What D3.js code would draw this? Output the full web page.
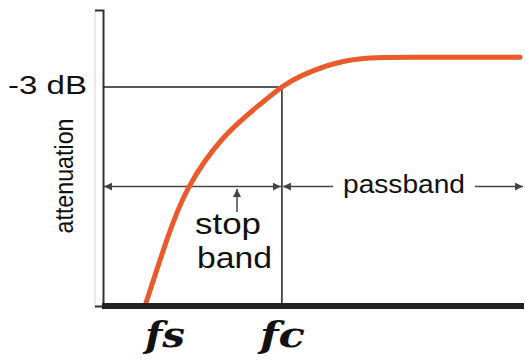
<!DOCTYPE html>
<html lang="en">
<head>
  <meta charset="UTF-8">
  <title>low-pass cutoff</title>
  <script src="https://cdn.jsdelivr.net/npm/d3@7"></script>
  <style>
    body { margin: 0; background: #fff; }
    .sans { font-family: "Liberation Sans", Arial, sans-serif; fill: #111; }
    .freq { font-family: "DejaVu Serif", serif; font-weight: 700; font-style: italic; fill: #111; }
  </style>
</head>
<body>
<script>
// frequency (arbitrary units) and attenuation in dB
let freq  = [1.0, 1.52, 2.05, 2.86, 3.67, 4.26, 4.76, 5.57, 6.36, 7.31, 9.93];
let atten = [-25.2, -18.5, -13.1, -8.2, -5.0, -3.0, -1.8, -0.57, -0.07, 0, 0];
let fs = 1.0;
let fc = 4.26;
let cutoff = -3;
let arrowLevel = -13.1;

let width = 525;
let height = 360;

let x = d3.scaleLinear().domain([0, 10]).range([103, 523]);
let y = d3.scaleLinear().domain([-25.2, 4.8]).range([306, 10]);

let svg = d3.select('body')
  .append('svg')
  .attr('width', width)
  .attr('height', height);

let defs = svg.append('defs');
defs.append('marker')
  .attr('id', 'head')
  .attr('viewBox', '0 0 10 10')
  .attr('refX', 10)
  .attr('refY', 5)
  .attr('markerWidth', 10)
  .attr('markerHeight', 8)
  .attr('markerUnits', 'userSpaceOnUse')
  .attr('orient', 'auto-start-reverse')
  .append('path')
  .attr('d', 'M0,0 L10,5 L0,10 Z')
  .attr('fill', '#444');

// faint frame line left of the axis
svg.append('line')
  .attr('x1', 95).attr('x2', 95)
  .attr('y1', y(4.8)).attr('y2', y(-25.2) + 2)
  .attr('stroke', '#d4d4d4')
  .attr('stroke-width', 1);

// y axis: only the domain with its outer tick
let yAxis = d3.axisLeft(y).tickValues([]).tickSizeOuter(8);
let gy = svg.append('g')
  .attr('transform', 'translate(' + x(0) + ',0)')
  .call(yAxis);
gy.select('.domain').attr('stroke', '#333').attr('stroke-width', 2);

// -3 dB guide and fc drop line
svg.append('path')
  .attr('d', 'M' + x(0) + ',' + y(cutoff) + 'H' + x(fc) + 'V' + y(-25.2))
  .attr('fill', 'none')
  .attr('stroke', '#222')
  .attr('stroke-width', 1.5);

// stop band double arrow
svg.append('line')
  .attr('x1', x(0) + 1).attr('x2', x(fc) - 1)
  .attr('y1', y(arrowLevel)).attr('y2', y(arrowLevel))
  .attr('stroke', '#444').attr('stroke-width', 1.5)
  .attr('marker-start', 'url(#head)')
  .attr('marker-end', 'url(#head)');

// passband arrow pieces
svg.append('line')
  .attr('x1', x(fc) + 1).attr('x2', 333)
  .attr('y1', y(arrowLevel)).attr('y2', y(arrowLevel))
  .attr('stroke', '#444').attr('stroke-width', 1.5)
  .attr('marker-start', 'url(#head)');
svg.append('line')
  .attr('x1', 475).attr('x2', x(10))
  .attr('y1', y(arrowLevel)).attr('y2', y(arrowLevel))
  .attr('stroke', '#444').attr('stroke-width', 1.5)
  .attr('marker-end', 'url(#head)');

// small up arrow under stop band
svg.append('line')
  .attr('x1', 237).attr('x2', 237)
  .attr('y1', 212).attr('y2', 189)
  .attr('stroke', '#444').attr('stroke-width', 1.5)
  .attr('marker-end', 'url(#head)');

// response curve
let line = d3.line()
  .x(function (d, i) { return x(freq[i]); })
  .y(function (d) { return y(d); })
  .curve(d3.curveNatural);

svg.append('path')
  .datum(atten)
  .attr('d', line)
  .attr('fill', 'none')
  .attr('stroke', '#ea5a2a')
  .attr('stroke-width', 5)
  .attr('stroke-linecap', 'round');

// thick frequency baseline
svg.append('line')
  .attr('x1', x(0) - 1).attr('x2', x(10) + 1)
  .attr('y1', y(-25.2)).attr('y2', y(-25.2))
  .attr('stroke', '#222')
  .attr('stroke-width', 6);

// labels
svg.append('text')
  .attr('class', 'sans')
  .attr('x', 8).attr('y', 94)
  .attr('font-size', 25)
  .attr('textLength', 79).attr('lengthAdjust', 'spacingAndGlyphs')
  .text('-3 dB');

svg.append('text')
  .attr('class', 'sans')
  .attr('transform', 'translate(73,176) rotate(-90)')
  .attr('text-anchor', 'middle')
  .attr('font-size', 25)
  .attr('textLength', 115).attr('lengthAdjust', 'spacingAndGlyphs')
  .text('attenuation');

svg.append('text')
  .attr('class', 'sans')
  .attr('x', 343).attr('y', 193)
  .attr('font-size', 25)
  .attr('textLength', 122).attr('lengthAdjust', 'spacingAndGlyphs')
  .text('passband');

svg.append('text')
  .attr('class', 'sans')
  .attr('x', 195).attr('y', 234)
  .attr('font-size', 29)
  .attr('textLength', 66).attr('lengthAdjust', 'spacingAndGlyphs')
  .text('stop');

svg.append('text')
  .attr('class', 'sans')
  .attr('x', 197).attr('y', 268)
  .attr('font-size', 29)
  .attr('textLength', 75).attr('lengthAdjust', 'spacingAndGlyphs')
  .text('band');

svg.append('text')
  .attr('class', 'freq')
  .attr('x', x(fs)).attr('y', 347)
  .attr('font-size', 36)
  .attr('textLength', 40).attr('lengthAdjust', 'spacingAndGlyphs')
  .text('fs');

svg.append('text')
  .attr('class', 'freq')
  .attr('x', x(fc) - 22).attr('y', 347)
  .attr('font-size', 36)
  .attr('textLength', 45).attr('lengthAdjust', 'spacingAndGlyphs')
  .text('fc');
</script>
</body>
</html>
